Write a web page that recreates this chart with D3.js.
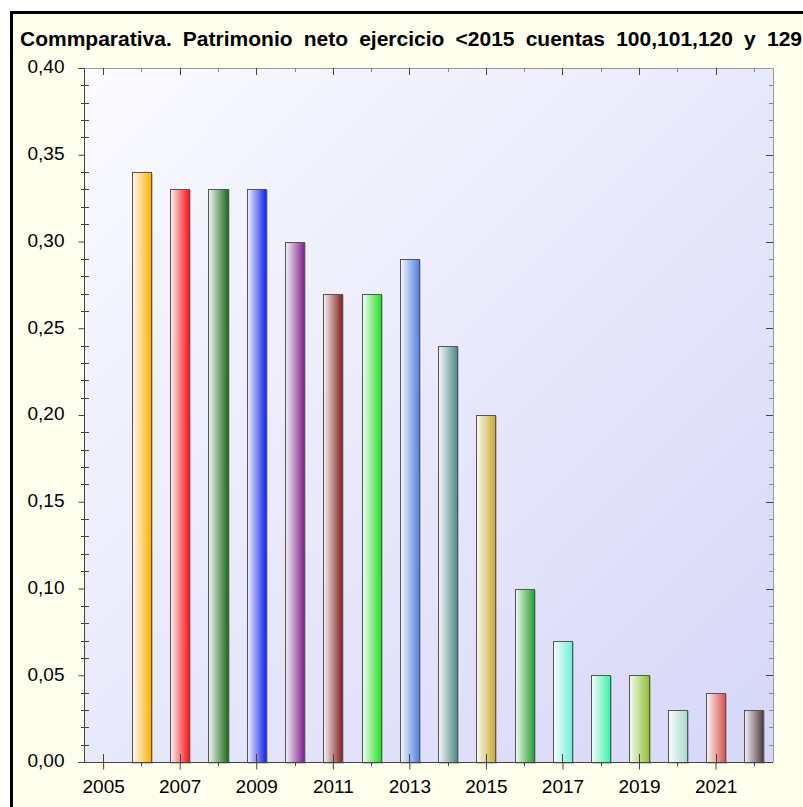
<!DOCTYPE html>
<html>
<head>
<meta charset="utf-8">
<script src="https://cdn.jsdelivr.net/npm/d3@7"></script>
<style>
  html, body { margin: 0; padding: 0; background: #fff; }
  svg { display: block; font-family: "Liberation Sans", Arial, sans-serif; }
</style>
</head>
<body>
<div id="chart"></div>
<script>
// data
const years = [2006, 2007, 2008, 2009, 2010, 2011, 2012, 2013, 2014, 2015, 2016, 2017, 2018, 2019, 2020, 2021, 2022];
const values = [0.34, 0.33, 0.33, 0.33, 0.30, 0.27, 0.27, 0.29, 0.24, 0.20, 0.10, 0.07, 0.05, 0.05, 0.03, 0.04, 0.03];
const barColors = ['#ffb000', '#ff1010', '#1a6a1a', '#1020f0', '#80208f', '#802020', '#22e022', '#5080e0',
  '#4a8a86', '#c8aa2e', '#22a030', '#6eeedc', '#3cf0a8', '#8ec02a', '#a8d8d0', '#d85050', '#503840'];
const yTicks = [0, 0.05, 0.10, 0.15, 0.20, 0.25, 0.30, 0.35, 0.40];
const xLabelYears = [2005, 2007, 2009, 2011, 2013, 2015, 2017, 2019, 2021];
const title = 'Commparativa. Patrimonio neto ejercicio <2015 cuentas 100,101,120 y 129';

const W = 803, H = 807;
const pLeft = 84, pRight = 773, pTop = 68, pBottom = 762;
const labelFont = 19;

const svg = d3.select('#chart').append('svg')
  .attr('width', W).attr('height', H);

const defs = svg.append('defs');

// frame
svg.append('rect')
  .attr('x', 11.5).attr('y', 12.5)
  .attr('width', W + 20).attr('height', H + 20)
  .attr('fill', '#ffffee')
  .attr('stroke', '#000').attr('stroke-width', 3);

// title, spread over the full width like the original
const titleText = svg.append('text')
  .attr('x', 20).attr('y', 46)
  .attr('font-size', 21).attr('font-weight', 'bold')
  .attr('fill', '#000')
  .text(title);
const gaps = title.split(' ').length - 1;
const natural = titleText.node().getComputedTextLength();
titleText.attr('word-spacing', Math.max(0, (782 - natural) / gaps));

// plot background
const bg = defs.append('linearGradient').attr('id', 'bg')
  .attr('x1', 0).attr('y1', 0).attr('x2', 1).attr('y2', 1);
bg.append('stop').attr('offset', '0%').attr('stop-color', '#fbfbff');
bg.append('stop').attr('offset', '100%').attr('stop-color', '#d6d6f8');

svg.append('rect')
  .attr('x', pLeft).attr('y', pTop)
  .attr('width', pRight - pLeft).attr('height', pBottom - pTop)
  .attr('fill', 'url(#bg)');

const x = d3.scaleLinear().domain([2004.5, 2022.5]).range([pLeft, pRight]);
const y = d3.scaleLinear().domain([0, 0.4]).range([pBottom, pTop]);

// bar gradients
barColors.forEach((c, i) => {
  const g = defs.append('linearGradient').attr('id', 'bar' + i)
    .attr('x1', 0).attr('y1', 0).attr('x2', 1).attr('y2', 0);
  g.append('stop').attr('offset', '0%').attr('stop-color', d3.interpolateRgb('#ffffff', c)(0.06));
  g.append('stop').attr('offset', '100%').attr('stop-color', c);
});

const bars = svg.append('g');
const data = years.map((yr, i) => ({ yr, v: values[i], i }));

// soft shadow
bars.selectAll('rect.shadow').data(data).enter().append('rect')
  .attr('class', 'shadow')
  .attr('x', d => Math.round(x(d.yr - 0.25)) + 1.5)
  .attr('y', d => Math.round(y(d.v)) + 1.5)
  .attr('width', d => Math.round(x(d.yr + 0.25)) - Math.round(x(d.yr - 0.25)))
  .attr('height', d => pBottom - Math.round(y(d.v)))
  .attr('fill', 'none').attr('stroke', '#000').attr('stroke-opacity', 0.2);

bars.selectAll('rect.bar').data(data).enter().append('rect')
  .attr('class', 'bar')
  .attr('x', d => Math.round(x(d.yr - 0.25)) + 0.5)
  .attr('y', d => Math.round(y(d.v)) + 0.5)
  .attr('width', d => Math.round(x(d.yr + 0.25)) - Math.round(x(d.yr - 0.25)))
  .attr('height', d => pBottom - Math.round(y(d.v)))
  .attr('fill', d => `url(#bar${d.i})`)
  .attr('stroke', '#555').attr('stroke-width', 1);

// axes frame
const axisCol = '#444';
svg.append('line').attr('x1', pLeft - 6).attr('x2', pRight).attr('y1', pTop + 0.5).attr('y2', pTop + 0.5)
  .attr('stroke', '#999');
svg.append('line').attr('x1', pRight + 0.5).attr('x2', pRight + 0.5).attr('y1', pTop).attr('y2', pBottom)
  .attr('stroke', '#999');

const yAxis = svg.append('g')
  .attr('transform', `translate(${pLeft + 0.5},0)`)
  .call(d3.axisLeft(y).tickValues(yTicks).tickSize(6).tickPadding(14)
    .tickFormat(d => d3.format('.2f')(d).replace('.', ',')));
yAxis.select('.domain').attr('stroke', axisCol).attr('d', `M0,${pTop}V${pBottom}`);
yAxis.selectAll('.tick line').attr('stroke', axisCol);
yAxis.selectAll('.tick text').attr('font-size', labelFont).attr('fill', '#000').attr('dy', '0.25em')
  .attr('font-family', '"Liberation Sans", Arial, sans-serif');

const xAxis = svg.append('g')
  .attr('transform', `translate(0,${pBottom + 0.5})`)
  .call(d3.axisBottom(x).tickValues(xLabelYears).tickSize(7).tickPadding(10)
    .tickFormat(d3.format('d')));
xAxis.select('.domain').attr('stroke', axisCol).attr('d', `M${pLeft - 6},0H${pRight}`);
xAxis.selectAll('.tick line').attr('stroke', axisCol);
xAxis.selectAll('.tick text').attr('font-size', labelFont).attr('fill', '#000')
  .attr('font-family', '"Liberation Sans", Arial, sans-serif');

// extra tick marks
const minorY = d3.range(1, 40).map(k => k / 100).filter(v => Math.round(v * 100) % 5 !== 0);
const allYears = d3.range(2005, 2023);
const evenYears = allYears.filter(v => v % 2 === 0);
const marks = svg.append('g').attr('stroke', axisCol);

marks.selectAll('line.ymin').data(minorY).enter().append('line')
  .attr('x1', pLeft - 3).attr('x2', pLeft + 5)
  .attr('y1', d => Math.round(y(d)) + 0.5).attr('y2', d => Math.round(y(d)) + 0.5);
marks.selectAll('line.rmaj').data(yTicks.slice(1, -1)).enter().append('line')
  .attr('x1', pRight - 7).attr('x2', pRight)
  .attr('y1', d => Math.round(y(d)) + 0.5).attr('y2', d => Math.round(y(d)) + 0.5);
marks.selectAll('line.rmin').data(minorY).enter().append('line')
  .attr('x1', pRight - 4).attr('x2', pRight)
  .attr('stroke', '#888')
  .attr('y1', d => Math.round(y(d)) + 0.5).attr('y2', d => Math.round(y(d)) + 0.5);
// bottom: odd years cross inside, even years short outside
marks.selectAll('line.bmaj').data(xLabelYears).enter().append('line')
  .attr('y1', pBottom - 8).attr('y2', pBottom)
  .attr('x1', d => Math.round(x(d)) + 0.5).attr('x2', d => Math.round(x(d)) + 0.5);
marks.selectAll('line.bmin').data(evenYears).enter().append('line')
  .attr('y1', pBottom).attr('y2', pBottom + 4)
  .attr('x1', d => Math.round(x(d)) + 0.5).attr('x2', d => Math.round(x(d)) + 0.5);
// top
marks.selectAll('line.tmaj').data(xLabelYears).enter().append('line')
  .attr('y1', pTop).attr('y2', pTop + 7)
  .attr('x1', d => Math.round(x(d)) + 0.5).attr('x2', d => Math.round(x(d)) + 0.5);
marks.selectAll('line.tmin').data(evenYears).enter().append('line')
  .attr('y1', pTop).attr('y2', pTop + 4).attr('stroke', '#888')
  .attr('x1', d => Math.round(x(d)) + 0.5).attr('x2', d => Math.round(x(d)) + 0.5);
</script>
</body>
</html>
